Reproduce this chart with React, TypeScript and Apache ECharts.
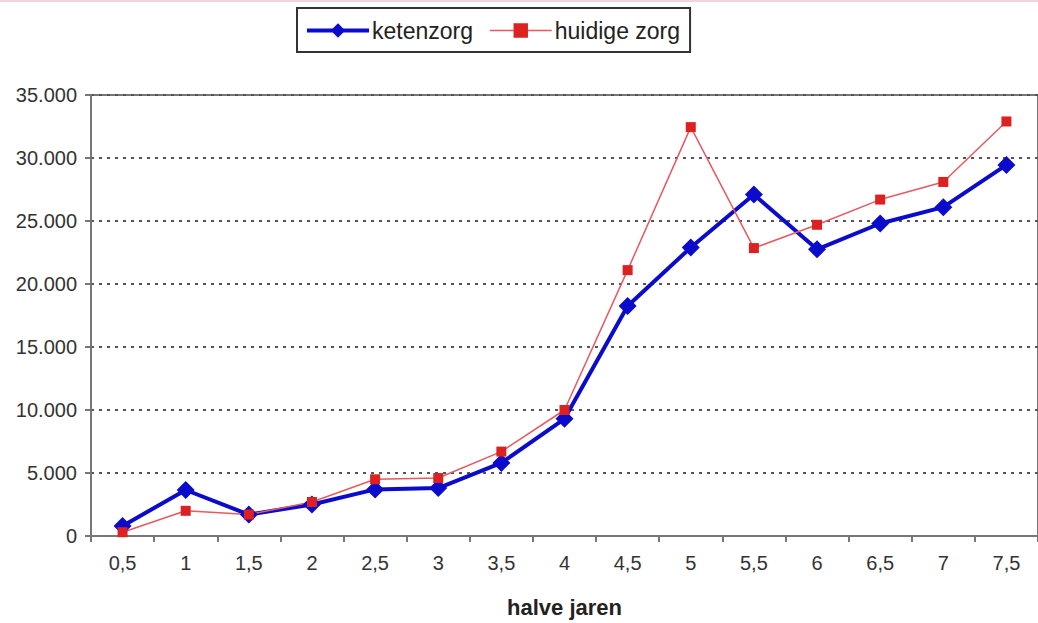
import React, { useEffect, useRef } from "react";
import * as echarts from "echarts";

const categories = ["0,5", "1", "1,5", "2", "2,5", "3", "3,5", "4", "4,5", "5", "5,5", "6", "6,5", "7", "7,5"];
const ketenzorg = [800, 3650, 1700, 2500, 3700, 3800, 5800, 9300, 18250, 22900, 27100, 22750, 24800, 26100, 29450];
const huidigeZorg = [300, 2000, 1700, 2700, 4500, 4600, 6700, 10000, 21100, 32450, 22850, 24700, 26700, 28100, 32900];
const yTicks = { min: 0, max: 35000, interval: 5000 };
const xTitle = "halve jaren";

function fmt(v: number): string {
  if (v === 0) return "0";
  const th = Math.floor(v / 1000);
  const rest = String(v % 1000).padStart(3, "0");
  return th + "." + rest;
}

export default function App() {
  const ref = useRef<HTMLDivElement>(null);
  useEffect(() => {
    if (!ref.current) return;
    const chart = echarts.init(ref.current, undefined, { renderer: "svg" });
    chart.setOption({
      animation: false,
      backgroundColor: "#ffffff",
      graphic: [
        { type: "rect", shape: { x: 0, y: 0, width: 1038, height: 2 }, style: { fill: "#f2d4de" }, silent: true },
      ],
      legend: {
        left: 297,
        top: 8,
        orient: "horizontal",
        borderColor: "#333",
        borderWidth: 2,
        backgroundColor: "#fff",
        padding: [11, 10, 10, 8],
        itemGap: 16,
        itemWidth: 62,
        itemHeight: 18,
        textStyle: { fontSize: 23, color: "#222", fontFamily: "Liberation Sans, Arial, sans-serif", padding: [0, 0, 0, -2] },
        data: [
          { name: "ketenzorg", lineStyle: { width: 4, color: "#0b0bcc" } },
          { name: "huidige zorg", lineStyle: { width: 1.5, color: "#e55a60" } },
        ],
      },
      grid: { left: 91, top: 95, bottom: 84, right: -10, show: true, borderColor: "#777", borderWidth: 2, backgroundColor: "transparent" },
      xAxis: {
        type: "category",
        data: categories,
        boundaryGap: true,
        axisLine: { lineStyle: { color: "#777", width: 2 } },
        axisTick: { show: true, interval: 0, length: 6, lineStyle: { color: "#777", width: 2 } },
        axisLabel: { interval: 0, margin: 17, fontSize: 20, color: "#333", fontFamily: "Liberation Sans Narrow, Arial Narrow, Liberation Sans, sans-serif" },
        name: xTitle,
        nameLocation: "middle",
        nameGap: 60,
        nameTextStyle: { fontSize: 22, fontWeight: "bold", color: "#222", fontFamily: "Liberation Sans, Arial, sans-serif" },
      },
      yAxis: {
        type: "value",
        min: yTicks.min,
        max: yTicks.max,
        interval: yTicks.interval,
        axisLine: { show: true, lineStyle: { color: "#777", width: 2 } },
        axisTick: { show: true, length: 6, lineStyle: { color: "#777", width: 2 } },
        axisLabel: { margin: 14, fontSize: 20, color: "#333", fontFamily: "Liberation Sans, Arial, sans-serif", formatter: (v: number) => fmt(v) },
        splitLine: { show: true, lineStyle: { color: "#555", width: 2, type: [3, 5] } },
      },
      series: [
        {
          name: "ketenzorg",
          type: "line",
          data: ketenzorg,
          symbol: "diamond",
          symbolSize: 18,
          lineStyle: { color: "#0b0bcc", width: 4 },
          itemStyle: { color: "#0b0bcc" },
        },
        {
          name: "huidige zorg",
          type: "line",
          data: huidigeZorg,
          symbol: "rect",
          symbolSize: 10,
          lineStyle: { color: "#e55a60", width: 1.5 },
          itemStyle: { color: "#dd2020" },
        },
      ],
    });
    return () => chart.dispose();
  }, []);
  return <div ref={ref} style={{ position: "absolute", left: 0, top: 0, width: 1038, height: 623 }} />;
}
